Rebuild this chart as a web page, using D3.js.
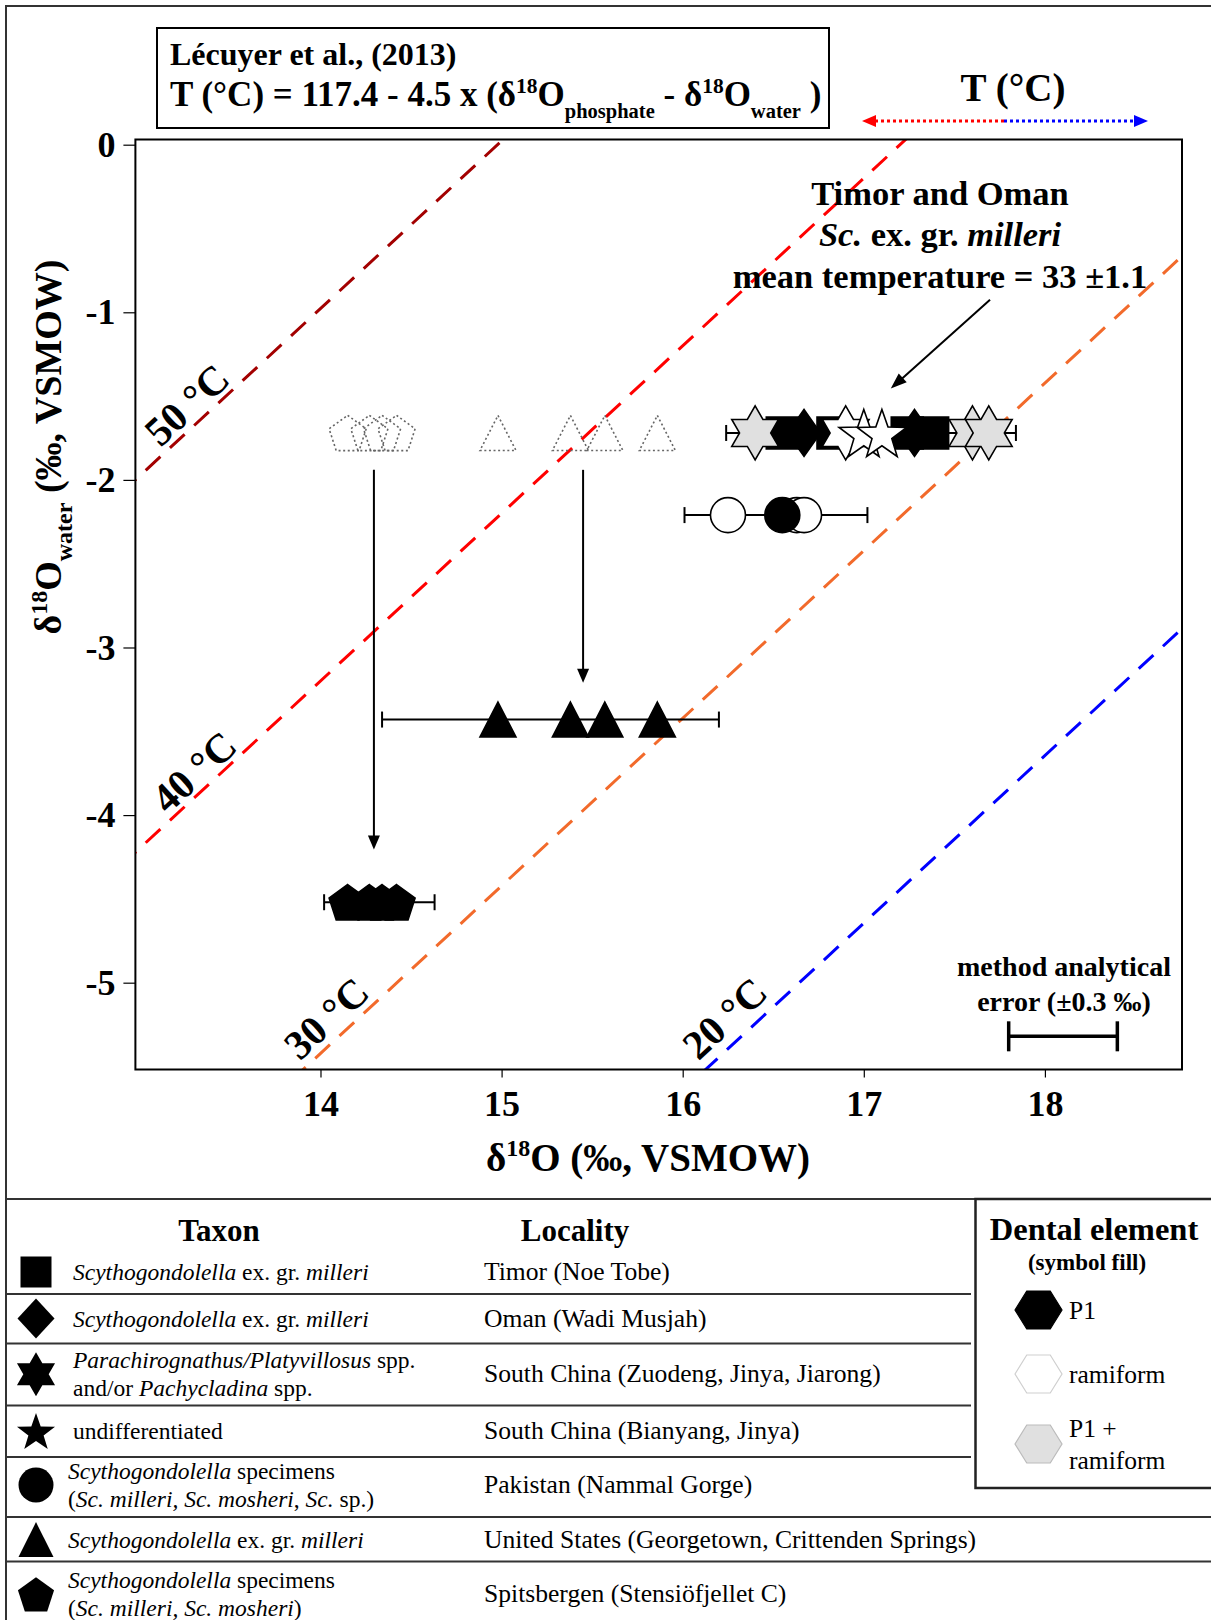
<!DOCTYPE html>
<html><head><meta charset="utf-8">
<script src="https://cdn.jsdelivr.net/npm/d3@7"></script>
<style>
body{margin:0;background:#fff;}
svg{display:block;}
text{font-family:"Liberation Serif","Times New Roman",serif;fill:#000;}
</style></head><body>
<svg id="fig" width="1211" height="1620"></svg>
<script>
// ---- data -------------------------------------------------------------
const xDomain = [12.978, 18.757];          // δ18O phosphate (‰ VSMOW)
const yDomain = [-5.518, 0.031];           // δ18O water (‰ VSMOW)
const xTicks = [14, 15, 16, 17, 18];
const yTicks = [0, -1, -2, -3, -4, -5];
const isotherms = [50, 40, 30, 20];        // °C
const isothermLabelPos = [[13.26, -1.55], [13.30, -3.74], [14.03, -5.21], [16.23, -5.21]];

// Timor and Oman, Sc. ex. gr. milleri and associated South China material
const timorOmanY = -1.72;
const timorOmanRange = [16.24, 17.84];
const timorSquares = [16.55, 16.83, 17.24, 17.38];
const omanDiamonds = [16.67, 17.28];
const chinaHexP1Ramiform = [16.40, 17.60, 17.69];
const chinaHexRamiform = [16.90];
const chinaStarRamiform = [17.00, 17.10];

// Pakistan (Nammal Gorge)
const pakistanY = -2.21;
const pakistanRange = [16.01, 17.02];
const pakistanRamiform = [16.25, 16.63, 16.67];
const pakistanP1 = [16.55];

// United States: values for the assumed water (dotted) and corrected (filled)
const usX = [14.98, 15.38, 15.57, 15.86];
const usOriginalY = -1.72;
const usCorrectedY = -3.43;
const usRange = [14.34, 16.20];

// Spitsbergen
const spitsX = [14.15, 14.27, 14.34, 14.42];
const spitsOriginalY = -1.72;
const spitsCorrectedY = -4.52;
const spitsRange = [14.02, 14.63];

// shift arrows [x, yStart, yEnd]
const shiftArrows = [[14.295, -1.94, -4.205], [15.45, -1.94, -3.21]];
const noteArrow = [[17.697, -0.925], [17.149, -1.455]];
const analyticalError = {x: 18.1, err: 0.3, y: -5.32};

// legend content
const legendRows = [
  {sym: "square", taxon: [[["i","Scythogondolella"],["n"," ex. gr. "],["i","milleri"]]], locality: "Timor (Noe Tobe)"},
  {sym: "diamond", taxon: [[["i","Scythogondolella"],["n"," ex. gr. "],["i","milleri"]]], locality: "Oman (Wadi Musjah)"},
  {sym: "hexagram", taxon: [[["i","Parachirognathus/Platyvillosus"],["n"," spp."]], [["n","and/or "],["i","Pachycladina"],["n"," spp."]]], locality: "South China (Zuodeng, Jinya, Jiarong)"},
  {sym: "star5", taxon: [[["n","undifferentiated"]]], locality: "South China (Bianyang, Jinya)"},
  {sym: "circle", taxon: [[["i","Scythogondolella"],["n"," specimens"]], [["n","("],["i","Sc. milleri, Sc. mosheri"],["n",", "],["i","Sc."],["n"," sp.)"]]], locality: "Pakistan (Nammal Gorge)"},
  {sym: "triangle", taxon: [[["i","Scythogondolella"],["n"," ex. gr. "],["i","milleri"]]], locality: "United States (Georgetown, Crittenden Springs)"},
  {sym: "pentagon", taxon: [[["i","Scythogondolella"],["n"," specimens"]], [["n","("],["i","Sc. milleri, Sc. mosheri"],["n",")"]]], locality: "Spitsbergen (Stensiöfjellet C)"}
];
const dentalElements = [["P1"], ["ramiform"], ["P1 +", "ramiform"]];

// ---- layout -----------------------------------------------------------
const svg = d3.select("#fig");
const W = 1211, H = 1620;
const plot = {left: 135.4, right: 1182, top: 139.5, bottom: 1069.5};
const x = d3.scaleLinear().domain(xDomain).range([plot.left, plot.right]);
const y = d3.scaleLinear().domain(yDomain).range([plot.bottom, plot.top]);
const serif = '"Liberation Serif","Times New Roman",serif';

// ---- shape generators -------------------------------------------------
function poly(pts) { return "M" + pts.map(p => p[0].toFixed(2) + "," + p[1].toFixed(2)).join("L") + "Z"; }
const shape = {
  square: s => poly([[-s/2,-s/2],[s/2,-s/2],[s/2,s/2],[-s/2,s/2]]),
  diamond: (w, h) => poly([[0,-h/2],[w/2,0],[0,h/2],[-w/2,0]]),
  triangle: (w, h) => poly([[0,-h/2],[w/2,h/2],[-w/2,h/2]]),
  hexagram: R => poly(d3.range(12).map(k => {
    const a = (-90 + k*30) * Math.PI/180, r = k % 2 ? R/Math.sqrt(3) : R;
    return [r*Math.cos(a), r*Math.sin(a)];
  })),
  star5: R => poly(d3.range(10).map(k => {
    const a = (-90 + k*36) * Math.PI/180, r = k % 2 ? R*0.4 : R;
    return [r*Math.cos(a), r*Math.sin(a) + R*0.0955];
  })),
  pentagon: R => poly(d3.range(5).map(k => {
    const a = (-90 + k*72) * Math.PI/180;
    return [R*Math.cos(a), R*Math.sin(a) + R*0.0955];
  })),
  hexagon: (w, h) => poly([[-w/2,0],[-w/4,-h/2],[w/4,-h/2],[w/2,0],[w/4,h/2],[-w/4,h/2]]),
  circle: r => `M${-r},0A${r},${r} 0 1,0 ${r},0A${r},${r} 0 1,0 ${-r},0Z`
};
const plotShape = {
  square: () => shape.square(32),
  diamond: () => shape.diamond(33, 47),
  hexagram: () => shape.hexagram(27),
  star5: () => shape.star5(26),
  circle: () => shape.circle(17.5),
  triangle: () => shape.triangle(36, 35),
  pentagon: () => shape.pentagon(19.5)
};
const legendShape = {
  square: () => shape.square(31),
  diamond: () => shape.diamond(37, 40),
  hexagram: () => shape.hexagram(22),
  star5: () => shape.star5(20),
  circle: () => shape.circle(17.5),
  triangle: () => shape.triangle(35, 35),
  pentagon: () => shape.pentagon(19)
};

// ---- figure frame -----------------------------------------------------
svg.append("rect").attr("width", W).attr("height", H).attr("fill", "#fff");
svg.append("path").attr("d", `M6,${H}V6H${W}`).attr("fill", "none").attr("stroke", "#333").attr("stroke-width", 2);

// ---- equation box -----------------------------------------------------
svg.append("rect").attr("x", 157).attr("y", 28).attr("width", 672).attr("height", 100)
  .attr("fill", "none").attr("stroke", "#000").attr("stroke-width", 2);
svg.append("text").attr("x", 170).attr("y", 65).attr("font-size", 32).attr("font-weight", "bold")
  .text("Lécuyer et al., (2013)");
const eq = svg.append("text").attr("x", 170).attr("y", 106).attr("font-size", 35).attr("font-weight", "bold");
[["T (°C) = 117.4 - 4.5 x (δ", 35, 0], ["18", 21.5, -13], ["O", 35, 13], ["phosphate", 20.5, 12],
 [" - δ", 35, -12], ["18", 21.5, -13], ["O", 35, 13], ["water", 20.5, 12], [" )", 35, -12]]
  .forEach(([t, fs, dy]) => eq.append("tspan").attr("font-size", fs).attr("dy", dy).text(t));

// ---- temperature direction header --------------------------------------
svg.append("text").attr("x", 1013).attr("y", 101).attr("text-anchor", "middle")
  .attr("font-size", 39).attr("font-weight", "bold").text("T (°C)");
const tArrowY = 121, tSplit = 1004;
svg.append("line").attr("x1", tSplit).attr("x2", 872).attr("y1", tArrowY).attr("y2", tArrowY)
  .attr("stroke", "#ff0000").attr("stroke-width", 3).attr("stroke-dasharray", "3,3");
svg.append("path").attr("d", poly([[862,tArrowY],[876,tArrowY-6],[876,tArrowY+6]])).attr("fill", "#ff0000");
svg.append("line").attr("x1", tSplit).attr("x2", 1138).attr("y1", tArrowY).attr("y2", tArrowY)
  .attr("stroke", "#0000ff").attr("stroke-width", 3).attr("stroke-dasharray", "3,3");
svg.append("path").attr("d", poly([[1148,tArrowY],[1134,tArrowY-6],[1134,tArrowY+6]])).attr("fill", "#0000ff");

// ---- plot area --------------------------------------------------------
svg.append("clipPath").attr("id", "plotClip").append("rect")
  .attr("x", plot.left).attr("y", plot.top)
  .attr("width", plot.right - plot.left).attr("height", plot.bottom - plot.top);

const isoColor = {50: "#a30000", 40: "#ff0000", 30: "#f26a2b", 20: "#0000ff"};
const isoLayer = svg.append("g").attr("clip-path", "url(#plotClip)");
isotherms.forEach(T => {
  const off = (117.4 - T) / 4.5;   // δ18Ow = δ18Op - (117.4 - T)/4.5
  const xs = [12.5, 19.5];
  isoLayer.append("line")
    .attr("x1", x(xs[0])).attr("y1", y(xs[0] - off))
    .attr("x2", x(xs[1])).attr("y2", y(xs[1] - off))
    .attr("stroke", isoColor[T]).attr("stroke-width", 3).attr("stroke-dasharray", "20,13");
});
const slopeDeg = Math.atan2(y(0) - y(1), x(1) - x(0)) * 180 / Math.PI;
isotherms.forEach((T, i) => {
  const [lx, ly] = isothermLabelPos[i];
  svg.append("text").attr("transform", `translate(${x(lx)},${y(ly)}) rotate(${-slopeDeg})`)
    .attr("text-anchor", "middle").attr("dy", "0.35em")
    .attr("font-size", 41).attr("font-weight", "bold").text(`${T} °C`);
});

// axes
const yAxis = svg.append("g").attr("transform", `translate(${plot.left},0)`)
  .call(d3.axisLeft(y).tickValues(yTicks).tickSize(12).tickPadding(8).tickFormat(d => String(d)));
const xAxis = svg.append("g").attr("transform", `translate(0,${plot.bottom})`)
  .call(d3.axisBottom(x).tickValues(xTicks).tickSize(8).tickPadding(13).tickFormat(d => String(d)));
[yAxis, xAxis].forEach(g => {
  g.select(".domain").remove();
  g.selectAll(".tick line").attr("stroke", "#000").attr("stroke-width", 1.2);
  g.selectAll(".tick text").attr("font-family", serif).attr("font-size", 36).attr("font-weight", "bold");
});

svg.append("rect").attr("x", plot.left).attr("y", plot.top)
  .attr("width", plot.right - plot.left).attr("height", plot.bottom - plot.top)
  .attr("fill", "none").attr("stroke", "#000").attr("stroke-width", 2);

// axis titles
const xt = svg.append("text").attr("x", 648).attr("y", 1171).attr("text-anchor", "middle")
  .attr("font-size", 39).attr("font-weight", "bold");
[["δ", 39, 0], ["18", 24, -15], ["O (‰, VSMOW)", 39, 15]]
  .forEach(([t, fs, dy]) => xt.append("tspan").attr("font-size", fs).attr("dy", dy).text(t));
const yt = svg.append("text").attr("transform", "translate(61,447) rotate(-90)").attr("text-anchor", "middle")
  .attr("font-size", 38).attr("font-weight", "bold");
[["δ", 38, 0], ["18", 24, -14], ["O", 38, 14], ["water", 24, 11], [" (‰, VSMOW)", 38, -11]]
  .forEach(([t, fs, dy]) => yt.append("tspan").attr("font-size", fs).attr("dy", dy).text(t));

// ---- error bars -------------------------------------------------------
function errorBar(range, yv, cap, sw) {
  const g = svg.append("g").attr("stroke", "#000").attr("stroke-width", sw);
  g.append("line").attr("x1", x(range[0])).attr("x2", x(range[1])).attr("y1", y(yv)).attr("y2", y(yv));
  range.forEach(v => g.append("line").attr("x1", x(v)).attr("x2", x(v))
    .attr("y1", y(yv) - cap/2).attr("y2", y(yv) + cap/2));
}
errorBar(timorOmanRange, timorOmanY, 16, 2);
errorBar(pakistanRange, pakistanY, 16, 2);
errorBar(usRange, usCorrectedY, 16, 2);
errorBar(spitsRange, spitsCorrectedY, 16, 2);
errorBar([analyticalError.x - analyticalError.err, analyticalError.x + analyticalError.err], analyticalError.y, 30, 3.5);

svg.append("text").attr("x", 1064).attr("y", 976).attr("text-anchor", "middle")
  .attr("font-size", 28).attr("font-weight", "bold").text("method analytical");
svg.append("text").attr("x", 1064).attr("y", 1011).attr("text-anchor", "middle")
  .attr("font-size", 28).attr("font-weight", "bold").text("error (±0.3 ‰)");

// ---- markers ----------------------------------------------------------
function markers(values, yv, kind, fill, stroke, extra) {
  svg.append("g").selectAll("path").data(values).join("path")
    .attr("transform", d => `translate(${x(d)},${y(yv)})`)
    .attr("d", plotShape[kind]())
    .attr("fill", fill).attr("stroke", stroke).attr("stroke-width", 1.6)
    .attr("stroke-linejoin", "miter")
    .attr("stroke-dasharray", extra || null);
}
// dotted outlines: values for the initially assumed seawater composition
markers(spitsX, spitsOriginalY, "pentagon", "none", "#666", "2,2.6");
markers(usX, usOriginalY, "triangle", "none", "#666", "2,2.6");

// corrected values
markers(spitsX, spitsCorrectedY, "pentagon", "#000", "#000");
markers(usX, usCorrectedY, "triangle", "#000", "#000");

markers(pakistanRamiform.slice(1), pakistanY, "circle", "#fff", "#000");
markers(pakistanP1, pakistanY, "circle", "#000", "#000");
markers(pakistanRamiform.slice(0, 1), pakistanY, "circle", "#fff", "#000");

markers(timorSquares, timorOmanY, "square", "#000", "#000");
markers(omanDiamonds, timorOmanY, "diamond", "#000", "#000");
markers(chinaHexRamiform, timorOmanY, "hexagram", "#fff", "#000");
markers(chinaStarRamiform, timorOmanY, "star5", "#fff", "#000");
markers(chinaHexP1Ramiform, timorOmanY, "hexagram", "#e0e0e0", "#000");

// ---- arrows -----------------------------------------------------------
function arrowHead(tx, ty, angle, len, half, fill) {
  const a = angle * Math.PI / 180, c = Math.cos(a), s = Math.sin(a);
  const bx = tx - c*len, by = ty - s*len;
  return svg.append("path").attr("d", poly([[tx,ty],[bx - s*half, by + c*half],[bx + s*half, by - c*half]])).attr("fill", fill);
}
shiftArrows.forEach(([ax, y0, y1]) => {
  svg.append("line").attr("x1", x(ax)).attr("x2", x(ax)).attr("y1", y(y0)).attr("y2", y(y1) - 10)
    .attr("stroke", "#000").attr("stroke-width", 2);
  arrowHead(x(ax), y(y1), 90, 14, 6, "#000");
});
{
  const [p0, p1] = noteArrow;
  const x0 = x(p0[0]), y0 = y(p0[1]), x1 = x(p1[0]), y1 = y(p1[1]);
  const ang = Math.atan2(y1 - y0, x1 - x0);
  svg.append("line").attr("x1", x0).attr("y1", y0)
    .attr("x2", x1 - 10*Math.cos(ang)).attr("y2", y1 - 10*Math.sin(ang))
    .attr("stroke", "#000").attr("stroke-width", 2);
  arrowHead(x1, y1, ang * 180 / Math.PI, 16, 6, "#000");
}

// annotation
svg.append("text").attr("x", 940).attr("y", 205).attr("text-anchor", "middle")
  .attr("font-size", 34.5).attr("font-weight", "bold").text("Timor and Oman");
const sc = svg.append("text").attr("x", 940).attr("y", 246).attr("text-anchor", "middle")
  .attr("font-size", 34.5).attr("font-weight", "bold");
sc.append("tspan").attr("font-style", "italic").text("Sc.");
sc.append("tspan").text(" ex. gr. ");
sc.append("tspan").attr("font-style", "italic").text("milleri");
svg.append("text").attr("x", 940).attr("y", 288).attr("text-anchor", "middle")
  .attr("font-size", 34.5).attr("font-weight", "bold").text("mean temperature = 33 ±1.1");

// ---- legend -----------------------------------------------------------
svg.append("line").attr("x1", 6).attr("x2", W).attr("y1", 1199).attr("y2", 1199)
  .attr("stroke", "#333").attr("stroke-width", 2);
svg.append("text").attr("x", 219).attr("y", 1241).attr("text-anchor", "middle")
  .attr("font-size", 31).attr("font-weight", "bold").text("Taxon");
svg.append("text").attr("x", 575).attr("y", 1241).attr("text-anchor", "middle")
  .attr("font-size", 31).attr("font-weight", "bold").text("Locality");

const rowCenters = [1272, 1318.5, 1374.3, 1431, 1485, 1539.6, 1594.4];
const rowLines = [1294, 1343.5, 1405.5, 1457, 1517, 1561.5];
const rowLineEnds = [971, 971, 971, 971, W, W];
rowLines.forEach((ly, i) => svg.append("line").attr("x1", 6).attr("x2", rowLineEnds[i])
  .attr("y1", ly).attr("y2", ly).attr("stroke", "#333").attr("stroke-width", 2));

legendRows.forEach((row, i) => {
  const cy = rowCenters[i];
  svg.append("path").attr("transform", `translate(36,${cy})`).attr("d", legendShape[row.sym]()).attr("fill", "#000");
  const tx = i < 4 ? 73 : 68;
  const n = row.taxon.length;
  row.taxon.forEach((line, j) => {
    const t = svg.append("text").attr("x", tx).attr("y", cy + 8 + (j - (n - 1)/2) * 28).attr("font-size", 23.5);
    line.forEach(([style, str]) => t.append("tspan").attr("font-style", style === "i" ? "italic" : null).text(str));
  });
  svg.append("text").attr("x", 484).attr("y", cy + 8).attr("font-size", 25.6).text(row.locality);
});

// dental element box
svg.append("path").attr("d", `M${W},1199H975.5V1488H${W}`).attr("fill", "#fff")
  .attr("stroke", "#222").attr("stroke-width", 2.5);
svg.append("text").attr("x", 1094).attr("y", 1240).attr("text-anchor", "middle")
  .attr("font-size", 32.5).attr("font-weight", "bold").text("Dental element");
svg.append("text").attr("x", 1087).attr("y", 1270).attr("text-anchor", "middle")
  .attr("font-size", 23).attr("font-weight", "bold").text("(symbol fill)");
const dentalY = [1310, 1374, 1444];
const dentalFill = ["#000", "#fff", "#e0e0e0"];
const dentalStroke = ["#000", "#cfcfcf", "#bbb"];
dentalElements.forEach((lines, i) => {
  svg.append("path").attr("transform", `translate(1038.5,${dentalY[i]})`).attr("d", shape.hexagon(47, 38))
    .attr("fill", dentalFill[i]).attr("stroke", dentalStroke[i]).attr("stroke-width", 1.2);
  lines.forEach((str, j) => svg.append("text").attr("x", 1069).attr("font-size", 25.5)
    .attr("y", dentalY[i] + 9 + (j - (lines.length - 1)/2) * 32).text(str));
});
</script>
</body></html>
